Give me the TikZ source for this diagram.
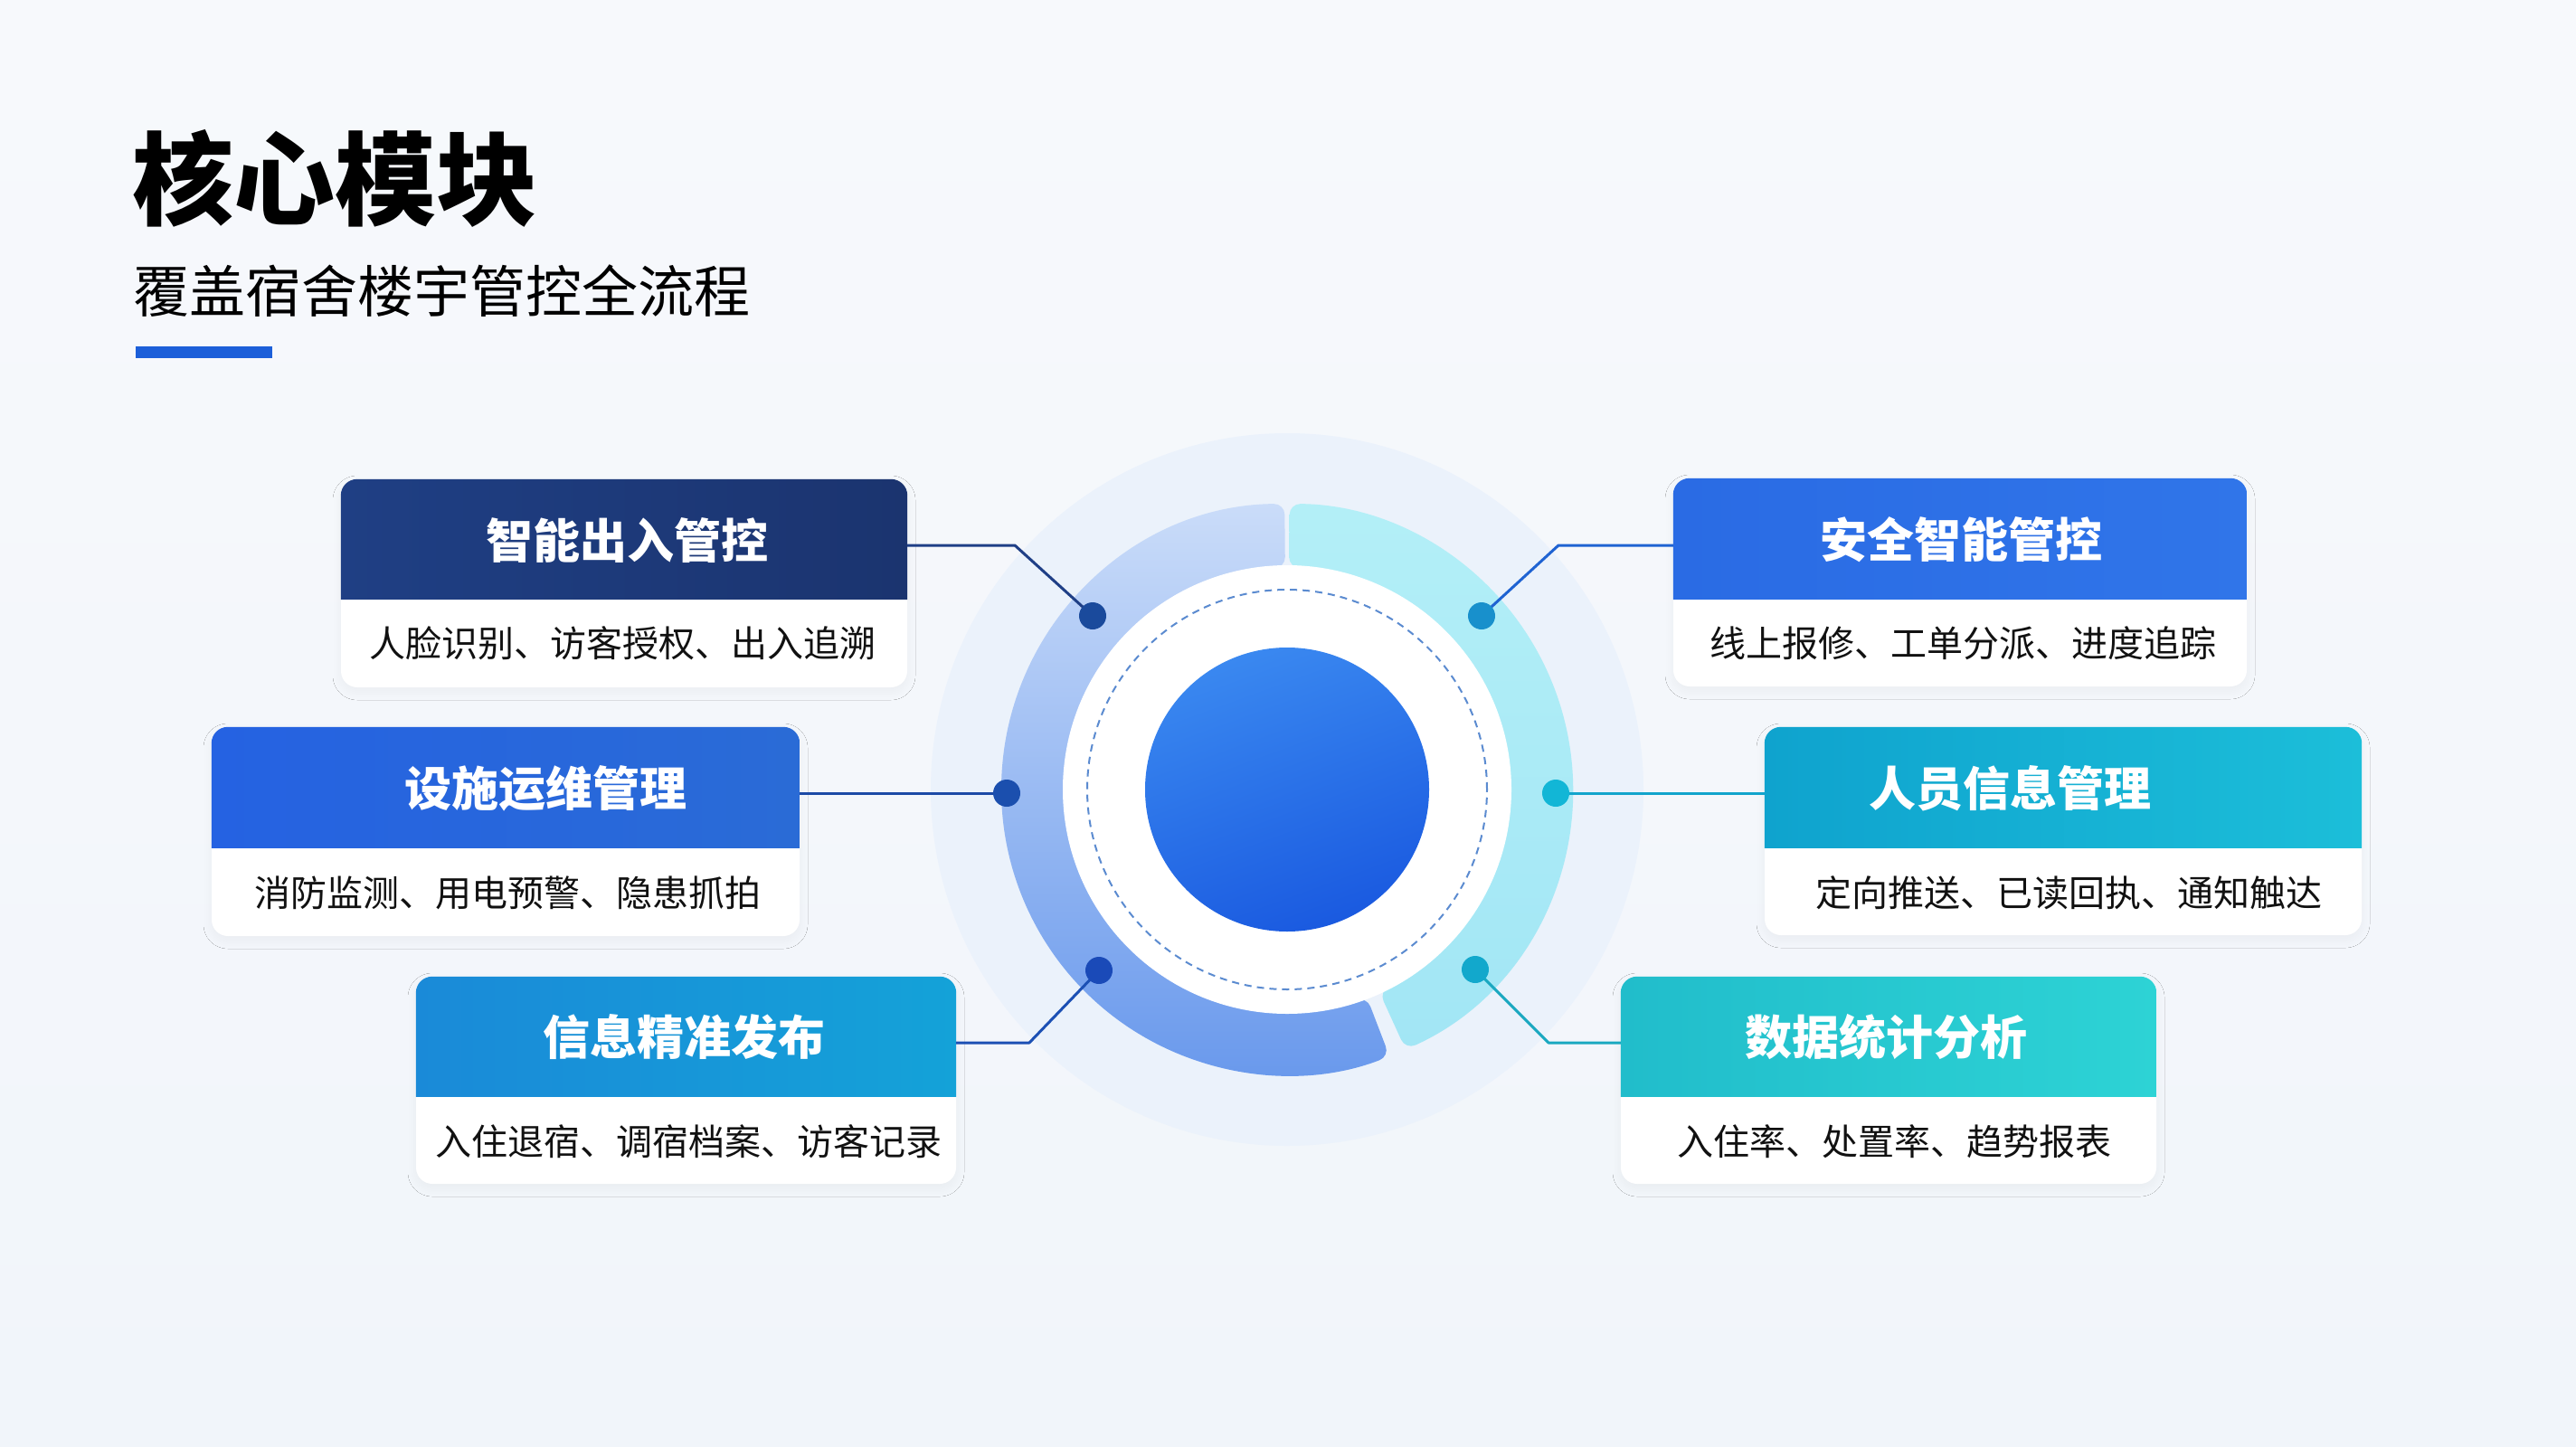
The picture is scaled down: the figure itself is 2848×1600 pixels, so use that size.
\documentclass[tikz,border=0pt]{standalone}
\usepackage{fontspec}
\setmainfont{Noto Sans CJK SC}
\usetikzlibrary{shadows.blur}
\definecolor{bgtop}{HTML}{F7F9FC}
\definecolor{bgbot}{HTML}{F1F5FA}
\definecolor{halo}{HTML}{EBF2FB}
\definecolor{blueTop}{HTML}{CADCF9}
\definecolor{blueBot}{HTML}{6898EC}
\definecolor{cyanTop}{HTML}{B3EFF7}
\definecolor{cyanBot}{HTML}{A2E6F5}
\definecolor{dashcol}{HTML}{5B8BD0}
\definecolor{coreA}{HTML}{3A88F0}
\definecolor{coreB}{HTML}{1A5AE0}
\definecolor{h1l}{HTML}{1F3F84}
\definecolor{h1r}{HTML}{1B346F}
\definecolor{h2l}{HTML}{2562E2}
\definecolor{h2r}{HTML}{2A6BD6}
\definecolor{h3l}{HTML}{1A8AD8}
\definecolor{h3r}{HTML}{14A2D8}
\definecolor{h4l}{HTML}{2A6BE4}
\definecolor{h4r}{HTML}{3075E9}
\definecolor{h5l}{HTML}{0FA3CE}
\definecolor{h5r}{HTML}{1CBED9}
\definecolor{h6l}{HTML}{21BDCB}
\definecolor{h6r}{HTML}{2DD3D5}
\definecolor{k1c}{HTML}{1F3F86}
\definecolor{k2c}{HTML}{1C4AA6}
\definecolor{k3c}{HTML}{1C50B4}
\definecolor{k4c}{HTML}{1F63D2}
\definecolor{k5c}{HTML}{12A4CC}
\definecolor{k6c}{HTML}{1AA8C0}
\definecolor{d1c}{HTML}{1A4A9C}
\definecolor{d2c}{HTML}{1B4FAE}
\definecolor{d3c}{HTML}{1A4AB8}
\definecolor{d4c}{HTML}{1890CC}
\definecolor{d5c}{HTML}{12B6D6}
\definecolor{d6c}{HTML}{12A8CC}
\definecolor{barcol}{HTML}{1C5FD9}
\definecolor{bodyink}{HTML}{111111}
\begin{document}
\begin{tikzpicture}[x=1pt,y=1pt,
  card/.style={fill=white, rounded corners=18pt, inner sep=0pt,
    blur shadow={shadow xshift=0pt, shadow yshift=-5pt, shadow blur radius=9pt, shadow blur steps=24, shadow opacity=4}},
  hdrtext/.style={text=white, font=\fontsize{52pt}{60pt}\selectfont\bfseries, inner sep=0pt},
  bodytext/.style={text=bodyink, font=\fontsize{40pt}{48pt}\selectfont, inner sep=0pt},
  conn/.style={line width=3pt, line join=round},
  dotmark/.style={circle, inner sep=0pt, minimum size=30pt},
  dashcirc/.style={draw=dashcol, line width=2pt, dash pattern=on 8pt off 6pt}
]
\useasboundingbox (0,0) rectangle (2848,-1600);
\shade[top color=bgtop, bottom color=bgbot] (0,0) rectangle (2848,-1600);

% ---------- title ----------
\node[anchor=west, inner sep=0pt, text=black, font=\fontsize{112pt}{120pt}\selectfont\bfseries] (title) at (146,-197) {核心模块};
\node[anchor=west, inner sep=0pt, text=black, font=\fontsize{62pt}{70pt}\selectfont] (subtitle) at (147,-322) {覆盖宿舍楼宇管控全流程};
\fill[barcol] (150,-383) rectangle (301,-396);

% ---------- central graphic ----------
\begin{scope}[shift={(1423,-873)}]
  \fill[halo] (0,0) circle[radius=394];
  \shade[top color=blueTop, bottom color=blueBot, rounded corners=12pt]
    (90.5:316) arc[start angle=90.5, end angle=291, radius=316]
    -- (291:245) arc[start angle=291, end angle=90.5, radius=245] -- cycle;
  \shade[top color=cyanTop, bottom color=cyanBot, rounded corners=12pt]
    (-65.5:316) arc[start angle=-65.5, end angle=89.5, radius=316]
    -- (89.5:245) arc[start angle=89.5, end angle=-65.5, radius=245] -- cycle;
  \fill[white] (0,0) circle[radius=248];
  \draw[dashcirc] (0,0) circle[radius=221];
  \shade[top color=coreA, bottom color=coreB, shading angle=20] (0,0) circle[radius=157];
  \node[circle, inner sep=0pt, minimum size=314pt] (core) at (0,0) {};
\end{scope}

% ---------- cards ----------
% card 1
\node[card, minimum width=626pt, minimum height=230pt] (b1) at (690,-645) {};
\begin{scope}
  \clip[rounded corners=18pt] (b1.south west) rectangle (b1.north east);
  \shade[left color=h1l, right color=h1r] (b1.north west) rectangle ([yshift=-133pt]b1.north east);
\end{scope}
\node[hdrtext] (t1) at (693,-598) {智能出入管控};
\node[bodytext] (s1) at (688,-711) {人脸识别、访客授权、出入追溯};

% card 2
\node[card, minimum width=650pt, minimum height=231pt] (b2) at (559,-919.5) {};
\begin{scope}
  \clip[rounded corners=18pt] (b2.south west) rectangle (b2.north east);
  \shade[left color=h2l, right color=h2r] (b2.north west) rectangle ([yshift=-134pt]b2.north east);
\end{scope}
\node[hdrtext] (t2) at (603,-872) {设施运维管理};
\node[bodytext] (s2) at (561,-987) {消防监测、用电预警、隐患抓拍};

% card 3
\node[card, minimum width=597pt, minimum height=229pt] (b3) at (758.5,-1194.5) {};
\begin{scope}
  \clip[rounded corners=18pt] (b3.south west) rectangle (b3.north east);
  \shade[left color=h3l, right color=h3r] (b3.north west) rectangle ([yshift=-133pt]b3.north east);
\end{scope}
\node[hdrtext] (t3) at (756,-1147) {信息精准发布};
\node[bodytext] (s3) at (761,-1262) {入住退宿、调宿档案、访客记录};

% card 4
\node[card, minimum width=634pt, minimum height=230pt] (b4) at (2167,-644) {};
\begin{scope}
  \clip[rounded corners=18pt] (b4.south west) rectangle (b4.north east);
  \shade[left color=h4l, right color=h4r] (b4.north west) rectangle ([yshift=-134pt]b4.north east);
\end{scope}
\node[hdrtext] (t4) at (2168,-597) {安全智能管控};
\node[bodytext] (s4) at (2170,-711) {线上报修、工单分派、进度追踪};

% card 5
\node[card, minimum width=660pt, minimum height=230pt] (b5) at (2281,-919) {};
\begin{scope}
  \clip[rounded corners=18pt] (b5.south west) rectangle (b5.north east);
  \shade[left color=h5l, right color=h5r] (b5.north west) rectangle ([yshift=-134pt]b5.north east);
\end{scope}
\node[hdrtext] (t5) at (2222,-872) {人员信息管理};
\node[bodytext] (s5) at (2287,-987) {定向推送、已读回执、通知触达};

% card 6
\node[card, minimum width=592pt, minimum height=229pt] (b6) at (2088,-1194.5) {};
\begin{scope}
  \clip[rounded corners=18pt] (b6.south west) rectangle (b6.north east);
  \shade[left color=h6l, right color=h6r] (b6.north west) rectangle ([yshift=-133pt]b6.north east);
\end{scope}
\node[hdrtext] (t6) at (2085,-1147) {数据统计分析};
\node[bodytext] (s6) at (2094,-1262) {入住率、处置率、趋势报表};

% ---------- connectors ----------
\coordinate (p1) at (1208,-681);
\coordinate (p2) at (1113,-877);
\coordinate (p3) at (1215,-1073);
\coordinate (p4) at (1638,-681);
\coordinate (p5) at (1720,-877);
\coordinate (p6) at (1631,-1072);
\coordinate (k1) at (1122,-603);
\coordinate (k3) at (1138,-1153);
\coordinate (k4) at (1723,-603);
\coordinate (k6) at (1712,-1153);

\draw[conn, draw=k1c] (b1.east |- k1) -- (k1) -- (p1);
\draw[conn, draw=k2c] (b2.east |- p2) -- (p2);
\draw[conn, draw=k3c] (b3.east |- k3) -- (k3) -- (p3);
\draw[conn, draw=k4c] (b4.west |- k4) -- (k4) -- (p4);
\draw[conn, draw=k5c] (b5.west |- p5) -- (p5);
\draw[conn, draw=k6c] (b6.west |- k6) -- (k6) -- (p6);

\node[dotmark, fill=d1c] (d1) at (p1) {};
\node[dotmark, fill=d2c] (d2) at (p2) {};
\node[dotmark, fill=d3c] (d3) at (p3) {};
\node[dotmark, fill=d4c] (d4) at (p4) {};
\node[dotmark, fill=d5c] (d5) at (p5) {};
\node[dotmark, fill=d6c] (d6) at (p6) {};
\end{tikzpicture}
\end{document}
